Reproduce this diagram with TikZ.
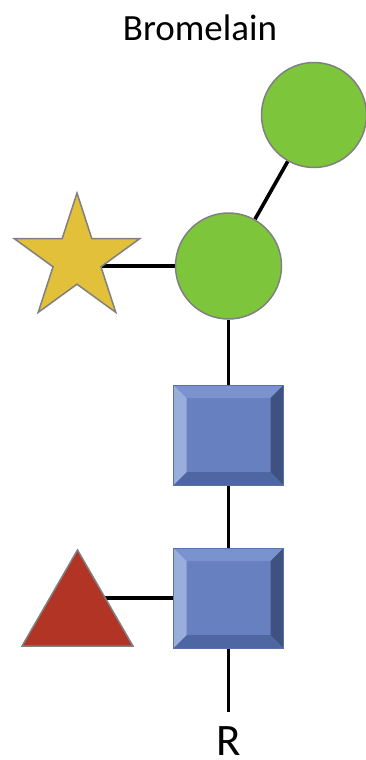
\documentclass[tikz,border=0pt]{standalone}
\usepackage{fontspec}
\setmainfont{Carlito}
\usetikzlibrary{shapes.geometric,backgrounds}

\definecolor{glcgreen}{HTML}{7DC63C}
\definecolor{fucyellow}{HTML}{E2C03A}
\definecolor{galred}{HTML}{B23424}
\definecolor{outl}{HTML}{808080}
\definecolor{sqface}{HTML}{6680C0}
\definecolor{sqedge}{HTML}{5A70A8}
\definecolor{bvtop}{HTML}{7A92CE}
\definecolor{bvleft}{HTML}{9AAEDC}
\definecolor{bvright}{HTML}{3E5282}
\definecolor{bvbottom}{HTML}{4E66A2}

\newcommand{\bvw}{13pt}

\tikzset{
  sugar/.style={inner sep=0pt, fill=#1, draw=outl, line width=1.5pt},
  hexose/.style={circle, sugar=glcgreen, minimum size=#1},
  bevelbox/.style={rectangle, inner sep=0pt, minimum width=110pt, minimum height=100pt,
    fill=sqface, draw=sqedge, line width=0.6pt,
    path picture={
      \path (path picture bounding box.north west) coordinate (pa)
            (path picture bounding box.north east) coordinate (pb)
            (path picture bounding box.south east) coordinate (pc)
            (path picture bounding box.south west) coordinate (pd);
      \path ([xshift=\bvw,yshift=-\bvw]pa) coordinate (qa)
            ([xshift=-\bvw,yshift=-\bvw]pb) coordinate (qb)
            ([xshift=-\bvw,yshift=\bvw]pc) coordinate (qc)
            ([xshift=\bvw,yshift=\bvw]pd) coordinate (qd);
      \fill[bvtop] (pa) -- (pb) -- (qb) -- (qa) -- cycle;
      \fill[bvright] (pb) -- (pc) -- (qc) -- (qb) -- cycle;
      \fill[bvbottom] (pc) -- (pd) -- (qd) -- (qc) -- cycle;
      \fill[bvleft] (pd) -- (pa) -- (qa) -- (qd) -- cycle;
    }},
  bond/.style={line width=3.6pt, black},
}

\begin{document}
\begin{tikzpicture}[x=1pt, y=-1pt]
  \useasboundingbox (0,0) rectangle (365,760);

  % title
  \node[anchor=base, inner sep=0pt, font=\fontsize{37}{44}\selectfont] (title) at (200,41) {Bromelain};

  % monosaccharide residues
  \node[hexose=105pt] (c1) at (314,115) {};
  \node[hexose=106pt] (c2) at (228.5,266) {};
  \node[star, star points=5, star point ratio=2.618, minimum size=132pt, sugar=fucyellow] (st) at (77,259) {};
  \node[bevelbox] (sq1) at (228.5,435) {};
  \node[bevelbox] (sq2) at (228.5,598) {};
  \node[regular polygon, regular polygon sides=3, minimum size=128pt, sugar=galred] (tri) at (77.5,614) {};

  % reducing end
  \coordinate (rend) at (228.5,712);
  \node[anchor=base, inner sep=0pt, font=\fontsize{45}{54}\selectfont] (rlab) at (228.5,755) {R};

  % glycosidic bonds
  \begin{scope}[on background layer]
    \draw[bond] (c2) -- (c1);
    \draw[bond] (c2) -- (c2 -| st);
    \draw[bond] (c2) -- (sq1);
    \draw[bond] (sq1) -- (sq2);
    \draw[bond] (sq2) -- (sq2 -| tri);
    \draw[bond] (sq2) -- (rend);
  \end{scope}
\end{tikzpicture}
\end{document}
